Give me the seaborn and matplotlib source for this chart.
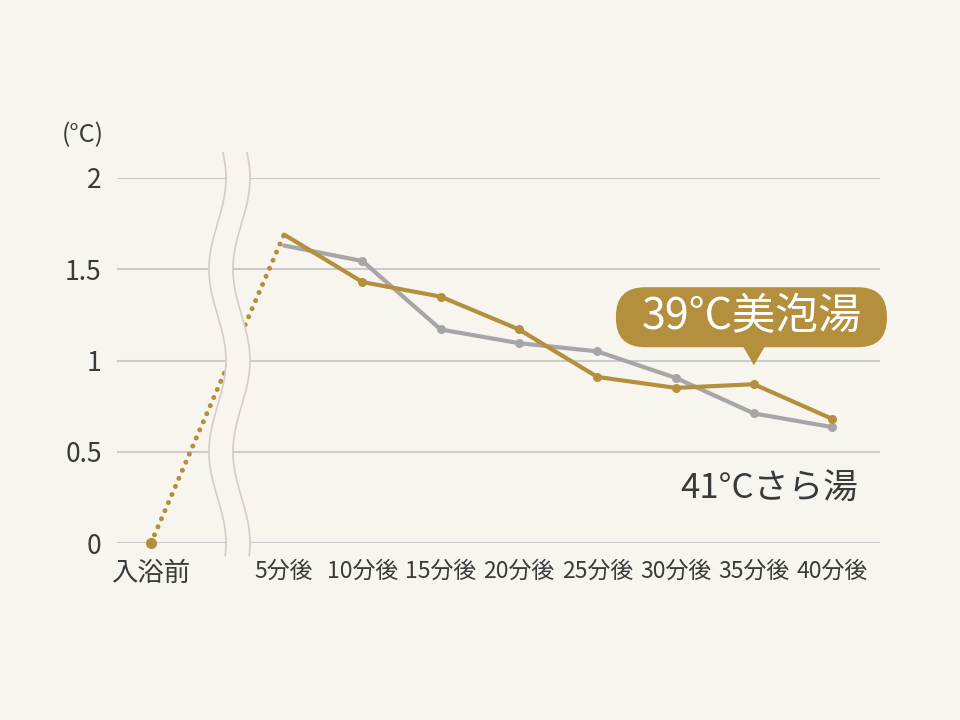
import numpy as np
import pandas as pd
import matplotlib
matplotlib.use("Agg")
import matplotlib.pyplot as plt
import matplotlib.transforms as mtransforms
from matplotlib.patches import FancyBboxPatch, Polygon
import seaborn as sns

bg = "#f8f5ef"
gold = "#b48f3e"
gray = "#a6a6a6"
ink = "#3a3a3a"

sns.set_theme(style="white", rc={"axes.facecolor": bg, "figure.facecolor": bg})
plt.rcParams["font.family"] = ["Noto Sans CJK JP", "DejaVu Sans"]

# data
labels = ["入浴前", "5分後", "10分後", "15分後", "20分後", "25分後", "30分後", "35分後", "40分後"]
before = 0.0
bibo = [1.69, 1.43, 1.35, 1.17, 0.91, 0.85, 0.87, 0.68]   # 39°C美泡湯
sara = [1.63, 1.545, 1.17, 1.095, 1.05, 0.905, 0.71, 0.635]  # 41°Cさら湯
name_bibo = "39°C美泡湯"
name_sara = "41°Cさら湯"
yticks = [0, 0.5, 1, 1.5, 2]
ytick_labels = ["0", "0.5", "1", "1.5", "2"]

pos = [1.7 + i for i in range(len(bibo))]
df = pd.DataFrame({
    "pos": pos * 2,
    "val": sara + bibo,
    "series": [name_sara] * len(sara) + [name_bibo] * len(bibo),
})

fig = plt.figure(figsize=(9.6, 7.2), dpi=100)
ax = fig.add_axes([117 / 960, 177 / 720, 763 / 960, 365 / 720])

sns.lineplot(data=df, x="pos", y="val", hue="series",
             hue_order=[name_sara, name_bibo],
             palette={name_sara: gray, name_bibo: gold},
             linewidth=3, marker="o", markersize=6.5, markeredgewidth=0,
             markevery=list(range(1, len(bibo))), legend=False,
             ax=ax, zorder=5, clip_on=False)

# dotted lead-in from before bathing
ax.plot([0, pos[0]], [before, bibo[0]], color=gold, lw=3.6,
        ls=(0, (0.01, 1.75)), dash_capstyle="round", zorder=2, clip_on=False)
ax.plot([0], [before], "o", color=gold, ms=8, mew=0, zorder=5, clip_on=False)

# axis break
ys = np.linspace(-0.07, 2.14, 400)
xl = 0.849 + 0.1086 * np.cos(2 * np.pi * ys)
xr = xl + 0.307
ax.fill_betweenx(ys, xl, xr, color=bg, zorder=3, lw=0, clip_on=False)
for xs in (xl, xr):
    ax.plot(xs, ys, color="#d2cec7", lw=1.2, zorder=4, clip_on=False)

ax.set_xlim(-0.434, 9.31)
ax.set_ylim(0, 2)
ax.set_yticks(yticks)
ax.set_yticklabels(ytick_labels)
ax.set_xticks([0] + pos)
ax.set_xticklabels(labels)
ax.set_xlabel("")
ax.set_ylabel("")
ax.grid(axis="y", color="#cbcbcb", lw=1.5)
ax.grid(axis="x", visible=False)
ax.tick_params(axis="y", length=0, pad=11, labelsize=19, labelcolor=ink)
ax.tick_params(axis="x", length=0, pad=12, labelsize=16.5, labelcolor=ink)
ax.get_xticklabels()[0].set_fontsize(19)
sns.despine(ax=ax, left=True, bottom=True)

ax.text(-0.0446, 1.118, "(°C)", transform=ax.transAxes, ha="center",
        va="center", fontsize=18, color=ink)

# callout for 39°C, anchored to the 35-minute point (pixel offsets)
anchor = mtransforms.Affine2D() + mtransforms.ScaledTranslation(pos[6], bibo[6], ax.transData)
box = FancyBboxPatch((-138, 37), 271, 60, boxstyle="round,pad=0,rounding_size=29",
                     transform=anchor, facecolor=gold, edgecolor="none",
                     zorder=6, clip_on=False)
ax.add_patch(box)
ax.add_patch(Polygon([(-11, 38), (11, 38), (0, 19)], closed=True, transform=anchor,
                     facecolor=gold, edgecolor="none", zorder=6, clip_on=False))
ax.text(-2, 67, name_bibo, transform=anchor, ha="center", va="center",
        fontsize=31, color="white", zorder=7)

ax.text(7.9, 0.30, name_sara, ha="center", va="center", fontsize=25, color=ink)

fig.savefig("out.png", dpi=100, facecolor=bg)
